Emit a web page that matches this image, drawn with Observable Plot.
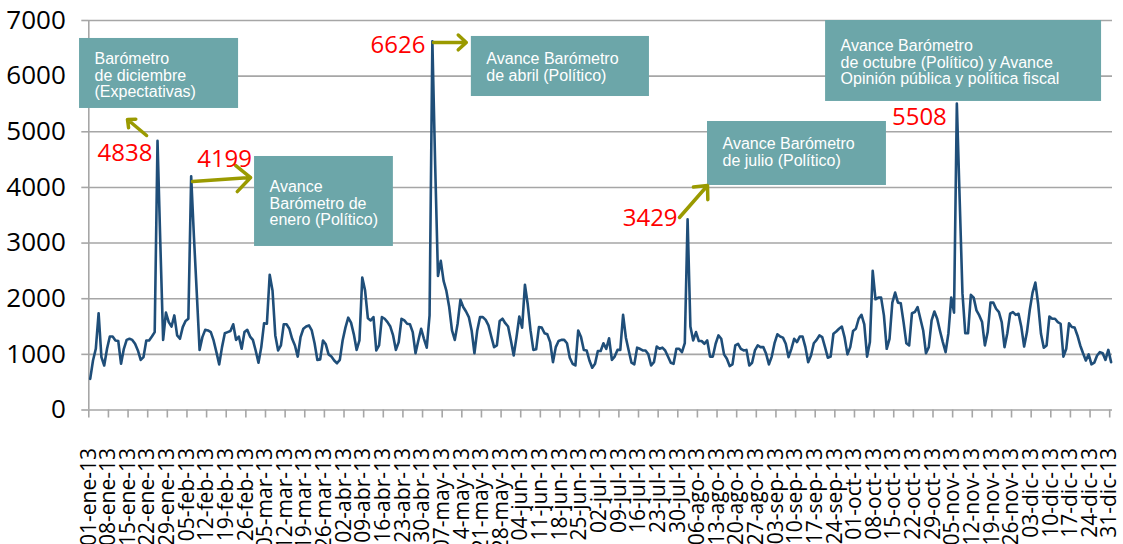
<!DOCTYPE html>
<html>
<head>
<meta charset="utf-8">
<script src="https://cdn.jsdelivr.net/npm/d3@7"></script>
<script src="https://cdn.jsdelivr.net/npm/@observablehq/plot@0.6"></script>
<style>
  html, body { margin: 0; padding: 0; background: #fff; }
  #chart { width: 1123px; height: 544px; overflow: hidden; }
</style>
</head>
<body>
<div id="chart"></div>
<script>
// ---- Data: daily values 2013, one array per month ----
const ene = [560,890,1100,1740,950,800,1100,1320,1320,1250,1240,830,1100,1260,1280,1260,1190,1070,900,950,1250,1250,1320,1400,4838,3000,1260,1750,1580,1500,1700];
const feb = [1340,1280,1490,1600,1640,4199,3100,2100,1080,1310,1440,1430,1400,1250,1040,820,1130,1380,1400,1420,1540,1260,1320,1100,1400,1440,1320,1260];
const mar = [1070,850,1130,1560,1550,2430,2150,1340,1070,1160,1540,1540,1460,1280,1160,960,1310,1460,1500,1520,1430,1200,900,910,1250,1180,1000,960,890,840,900];
const abr = [1250,1480,1660,1570,1360,1080,1250,2380,2150,1650,1610,1670,1070,1160,1670,1640,1580,1500,1340,1080,1220,1640,1610,1550,1540,1400,1020,1250,1460,1280];
const may = [1120,1700,6626,4400,2410,2680,2320,2140,1850,1430,1260,1550,1980,1850,1770,1670,1430,1020,1430,1670,1670,1620,1520,1320,1130,1160,1600,1640,1560,1500,1250];
const jun = [980,1310,1680,1480,2250,1900,1430,1080,1090,1490,1480,1380,1360,1220,860,1130,1240,1260,1260,1200,940,830,800,1430,1310,1080,1070,890,760,830];
const jul = [1060,1060,1200,1100,1290,900,960,1080,1080,1710,1300,1070,850,820,1120,1100,1070,1070,1000,800,860,1140,1100,1120,1070,960,850,830,1100,1100,1040];
const ago = [1200,3429,1500,1250,1400,1240,1240,1190,1250,960,960,1190,1340,1280,1000,920,790,820,1160,1190,1100,1070,1080,800,850,1070,1160,1130,1130,1010,820];
const sep = [960,1200,1360,1320,1300,1190,950,1100,1280,1220,1320,1320,1130,860,980,1200,1260,1340,1310,1130,940,960,1370,1410,1460,1500,1300,1000,1130,1420];
const oct = [1460,1640,1710,1540,960,1220,2500,1990,2020,2020,1700,1100,1280,1930,2110,1930,1920,1580,1200,1160,1740,1760,1850,1640,1430,1020,1130,1610,1770,1640,1420];
const nov = [1220,1040,1380,2020,1750,5508,3800,2100,1380,1380,2070,2020,1790,1700,1580,1160,1400,1930,1930,1820,1760,1580,1130,1380,1730,1760,1710,1730,1490,1140];
const dic = [1400,1800,2110,2290,1900,1370,1120,1160,1680,1640,1640,1580,1550,960,1100,1560,1490,1480,1340,1160,1020,890,1000,820,850,980,1040,1020,900,1080,860];

const meses = ["ene","feb","mar","abr","may","jun","jul","ago","sep","oct","nov","dic"];

// ---- Tick labels ----
const etiquetasX = ["01-ene-13","08-ene-13","15-ene-13","22-ene-13","29-ene-13","05-feb-13","12-feb-13","19-feb-13","26-feb-13","05-mar-13","12-mar-13","19-mar-13","26-mar-13","02-abr-13","09-abr-13","16-abr-13","23-abr-13","30-abr-13","07-may-13","14-may-13","21-may-13","28-may-13","04-jun-13","11-jun-13","18-jun-13","25-jun-13","02-jul-13","09-jul-13","16-jul-13","23-jul-13","30-jul-13","06-ago-13","13-ago-13","20-ago-13","27-ago-13","03-sep-13","10-sep-13","17-sep-13","24-sep-13","01-oct-13","08-oct-13","15-oct-13","22-oct-13","29-oct-13","05-nov-13","12-nov-13","19-nov-13","26-nov-13","03-dic-13","10-dic-13","17-dic-13","24-dic-13","31-dic-13"];
const ticksY = [0,1000,2000,3000,4000,5000,6000,7000];

// ---- Annotations (content) ----
const picosFechas = ["2013-01-25","2013-02-06","2013-05-03","2013-08-02","2013-11-06"];
const picosValores = [4838,4199,6626,3429,5508];
const textosCajas = [
  "Barómetro\nde diciembre\n(Expectativas)",
  "Avance\nBarómetro de\nenero (Político)",
  "Avance Barómetro\nde abril (Político)",
  "Avance Barómetro\nde julio (Político)",
  "Avance Barómetro\nde octubre (Político) y Avance\nOpinión pública y política fiscal"
];

// ---- Build table ----
const valoresPorMes = [ene,feb,mar,abr,may,jun,jul,ago,sep,oct,nov,dic];
const datos = valoresPorMes.flatMap((vals, m) =>
  vals.map((v, i) => ({fecha: new Date(Date.UTC(2013, m, i + 1, 12)), visitas: v})));
const fechaTick = s => { const [dd, mmm] = s.split("-"); return new Date(Date.UTC(2013, meses.indexOf(mmm), +dd)); };
const ticksX = etiquetasX.map(fechaTick);
const etiquetaPorFecha = new Map(ticksX.map((d, i) => [+d, etiquetasX[i]]));
const picos = picosFechas.map((f, i) => ({fecha: new Date(f + "T12:00:00Z"), valor: picosValores[i]}));

// ---- Layout of annotations (day-of-year position and value units) ----
const dia = t => new Date(Date.UTC(2013, 0, 1) + t * 864e5);
const cajasLayout = [
  {t1: -3.3, t2: 53.4, v1: 5419, v2: 6677, dy: 14},
  {t1: 59.1, t2: 108.6, v1: 2939, v2: 4556, dy: 24},
  {t1: 136.4, t2: 199.9, v1: 5634, v2: 6713, dy: 16},
  {t1: 220.6, t2: 284.4, v1: 4035, v2: 5185, dy: 16},
  {t1: 262.7, t2: 361.1, v1: 5545, v2: 7000, dy: 19}
];
const cajas = cajasLayout.map((c, i) => ({...c, texto: textosCajas[i]}));
const etiquetasLayout = [
  {anchor: "end", dx: -5, dy: 13},
  {anchor: "start", dx: 6, dy: -17},
  {anchor: "end", dx: -7, dy: 4},
  {anchor: "end", dx: -10, dy: -1},
  {anchor: "end", dx: -10, dy: 14}
];
const flechas = [
  {t1: 20.6, v1: 4933, t2: 13.8, v2: 5221},
  {t1: 37.0, v1: 4106, t2: 57.7, v2: 4178},
  {t1: 122.9, v1: 6606, t2: 134.6, v2: 6606},
  {t1: 210.6, v1: 3460, t2: 220.6, v2: 4035}
];

const gris = "#A6A6A6";
const teal = "#6CA6A9";
const oliva = "#9A9A00";

const chart = Plot.plot({
  width: 1123,
  height: 544,
  marginLeft: 88.3,
  marginRight: 11,
  marginTop: 20,
  marginBottom: 134.5,
  style: {fontFamily: "'Open Sans', sans-serif", background: "#fff", color: "#000"},
  x: {type: "utc", domain: [new Date(Date.UTC(2013,0,1)), new Date(Date.UTC(2014,0,1))]},
  y: {domain: [0, 7000]},
  marks: [
    Plot.gridY(ticksY.filter(v => v > 0), {stroke: gris, strokeOpacity: 1, strokeWidth: 1.6}),
    Plot.ruleY([0], {stroke: gris, strokeWidth: 1.6}),
    Plot.ruleX([new Date(Date.UTC(2013,0,1))], {y1: 0, y2: 7000, stroke: gris, strokeWidth: 1.6}),
    Plot.axisY(ticksY, {
      tickSize: 7, tickPadding: 16, stroke: gris, strokeWidth: 1.6, fill: "#000",
      fontSize: 26, tickFormat: d => String(d), label: null
    }),
    Plot.axisX(ticksX, {
      tickSize: 8, tickPadding: 30, stroke: gris, strokeWidth: 1.6, fill: "#000",
      fontSize: 21, tickRotate: -90, tickFormat: d => etiquetaPorFecha.get(+d), label: null
    }),
    Plot.line(datos, {x: "fecha", y: "visitas", stroke: "#1F4E79", strokeWidth: 2.6, strokeLinejoin: "round"}),
    Plot.rect(cajas, {x1: d => dia(d.t1), x2: d => dia(d.t2), y1: "v1", y2: "v2", fill: teal}),
    ...cajas.map(c => Plot.text([c], {
      x: d => dia(d.t1), y: "v2", text: "texto", textAnchor: "start", lineAnchor: "top",
      dx: 15, dy: c.dy, fill: "#fff", fontSize: 16, lineHeight: 1.03,
      fontFamily: "'Liberation Sans', Arial, sans-serif"
    })),
    Plot.arrow(flechas, {
      x1: d => dia(d.t1), y1: "v1", x2: d => dia(d.t2), y2: "v2",
      stroke: oliva, strokeWidth: 3.5, headLength: 12, headAngle: 85
    }),
    ...picos.map((p, i) => Plot.text([p], {
      x: "fecha", y: "valor", text: d => String(d.valor),
      textAnchor: etiquetasLayout[i].anchor, dx: etiquetasLayout[i].dx, dy: etiquetasLayout[i].dy,
      fill: "#FF0000", fontSize: 24
    }))
  ]
});
document.getElementById("chart").appendChild(chart);
</script>
</body>
</html>
